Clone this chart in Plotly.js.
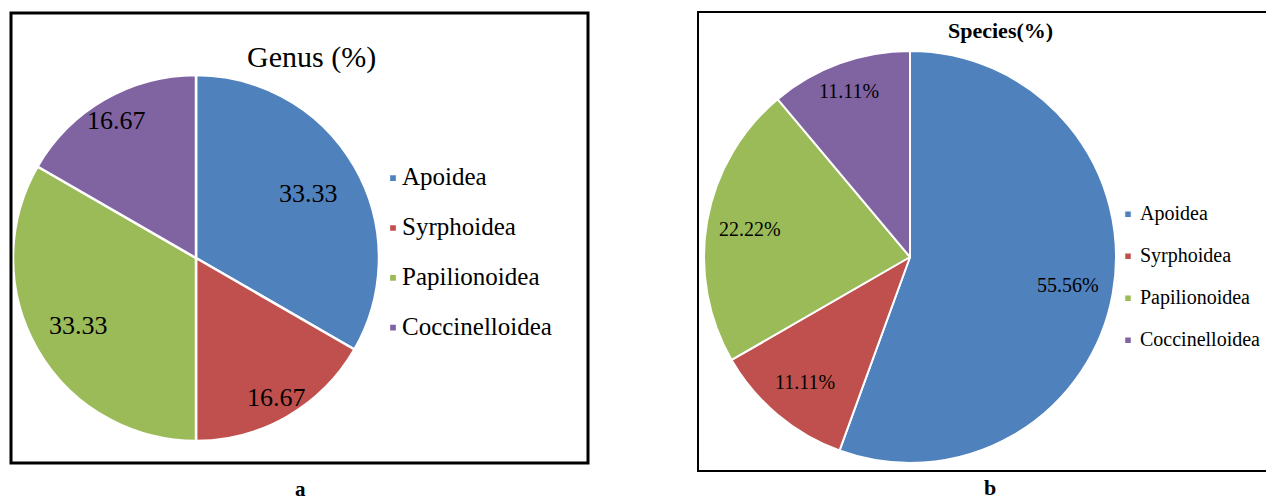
<!DOCTYPE html>
<html>
<head>
<meta charset="utf-8">
<script src="https://cdn.plot.ly/plotly-3.0.1.min.js"></script>
<style>
  html, body { margin: 0; padding: 0; background: #ffffff; }
  #chart { width: 1266px; height: 501px; }
  /* smaller legend swatches, sitting close to their labels */
  g.legend path.legendpie { transform: translate(31px, 0px) scale(0.6); }
  g.legend2 path.legendpie { transform: translate(28px, 0px) scale(0.55); }
</style>
</head>
<body>
<div id="chart"></div>
<script>
// Superfamilies of pollinating insects and their share of genera / species
const groups = ['Apoidea', 'Syrphoidea', 'Papilionoidea', 'Coccinelloidea'];
const genusPct = [33.33, 16.67, 33.33, 16.67];
const speciesPct = [55.56, 11.11, 22.22, 11.11];
const sliceColors = ['#4F81BD', '#C0504D', '#9BBB59', '#8064A2'];
const panelTitles = ['Genus (%)', 'Species(%)'];
const panelTags = ['a', 'b'];

const W = 1266, H = 501;
const px = x => x / W;
const py = y => 1 - y / H;
const SERIF = 'Liberation Serif, Times New Roman, serif';

// pie geometry in pixels (centre and radius) and how far out each value label sits
const genusGeom = { cx: 196, cy: 258, r: 183, label: [0.71, 0.88, 0.74, 0.87] };
const speciesGeom = { cx: 910, cy: 257, r: 206, label: [0.78, 0.79, 0.79, 0.86] };

// legend entries: larger label text on a two-line item to open up the spacing
const legendLabels = size => groups.map(g => `<span style="font-size:${size}px">${g}</span><br> `);

const pieTrace = (values, geom, legendId, lineWidth, legendSize) => ({
  type: 'pie',
  labels: legendLabels(legendSize),
  values: values,
  sort: false,
  direction: 'clockwise',
  rotation: 0,
  marker: { colors: sliceColors, line: { color: '#ffffff', width: lineWidth } },
  textinfo: 'none',
  domain: {
    x: [px(geom.cx - geom.r), px(geom.cx + geom.r)],
    y: [py(geom.cy + geom.r), py(geom.cy - geom.r)]
  },
  legend: legendId,
  hoverinfo: 'skip'
});

// value labels placed along each slice's middle angle (clockwise from 12 o'clock)
function valueLabels(values, geom, fmt, size) {
  const total = values.reduce((a, b) => a + b, 0);
  let cum = 0;
  return values.map((v, i) => {
    const mid = 2 * Math.PI * (cum + v / 2) / total;
    cum += v;
    const rr = geom.r * geom.label[i];
    return {
      text: fmt(v), xref: 'paper', yref: 'paper',
      x: px(geom.cx + rr * Math.sin(mid)), y: py(geom.cy - rr * Math.cos(mid)),
      xanchor: 'center', yanchor: 'middle', showarrow: false,
      font: { family: SERIF, size: size, color: '#000000' }
    };
  });
}

const textAt = (text, x, y, size) => ({
  text: text, xref: 'paper', yref: 'paper', x: px(x), y: py(y),
  xanchor: 'center', yanchor: 'middle', showarrow: false,
  font: { family: SERIF, size: size, color: '#000000' }
});

const layout = {
  width: W,
  height: H,
  margin: { l: 0, r: 0, t: 0, b: 0 },
  paper_bgcolor: '#ffffff',
  showlegend: true,
  font: { family: SERIF, color: '#000000' },
  legend: {
    x: px(362), y: py(160), xanchor: 'left', yanchor: 'top',
    valign: 'top',
    font: { family: SERIF, size: 18, color: '#000000' },
    bgcolor: 'rgba(0,0,0,0)', borderwidth: 0
  },
  legend2: {
    x: px(1100), y: py(198), xanchor: 'left', yanchor: 'top',
    valign: 'top',
    font: { family: SERIF, size: 15, color: '#000000' },
    bgcolor: 'rgba(0,0,0,0)', borderwidth: 0
  },
  shapes: [
    { type: 'rect', xref: 'paper', yref: 'paper',
      x0: px(11), x1: px(588), y0: py(463), y1: py(13),
      line: { color: '#000000', width: 3 }, fillcolor: 'rgba(0,0,0,0)' },
    { type: 'rect', xref: 'paper', yref: 'paper',
      x0: px(698), x1: px(1275), y0: py(471), y1: py(12),
      line: { color: '#000000', width: 2 }, fillcolor: 'rgba(0,0,0,0)' }
  ],
  annotations: [
    textAt(panelTitles[0], 311, 57, 30),
    textAt('<b>' + panelTitles[1] + '</b>', 1000, 30, 22),
    textAt('<b>' + panelTags[0] + '</b>', 300, 489, 21),
    textAt('<b>' + panelTags[1] + '</b>', 990, 487, 22),
    ...valueLabels(genusPct, genusGeom, v => v.toFixed(2), 26),
    ...valueLabels(speciesPct, speciesGeom, v => v.toFixed(2) + '%', 20)
  ]
};

const traces = [
  pieTrace(genusPct, genusGeom, 'legend', 2.5, 25),
  pieTrace(speciesPct, speciesGeom, 'legend2', 2, 20)
];

Plotly.newPlot('chart', traces, layout, { staticPlot: true, displayModeBar: false });
</script>
</body>
</html>
